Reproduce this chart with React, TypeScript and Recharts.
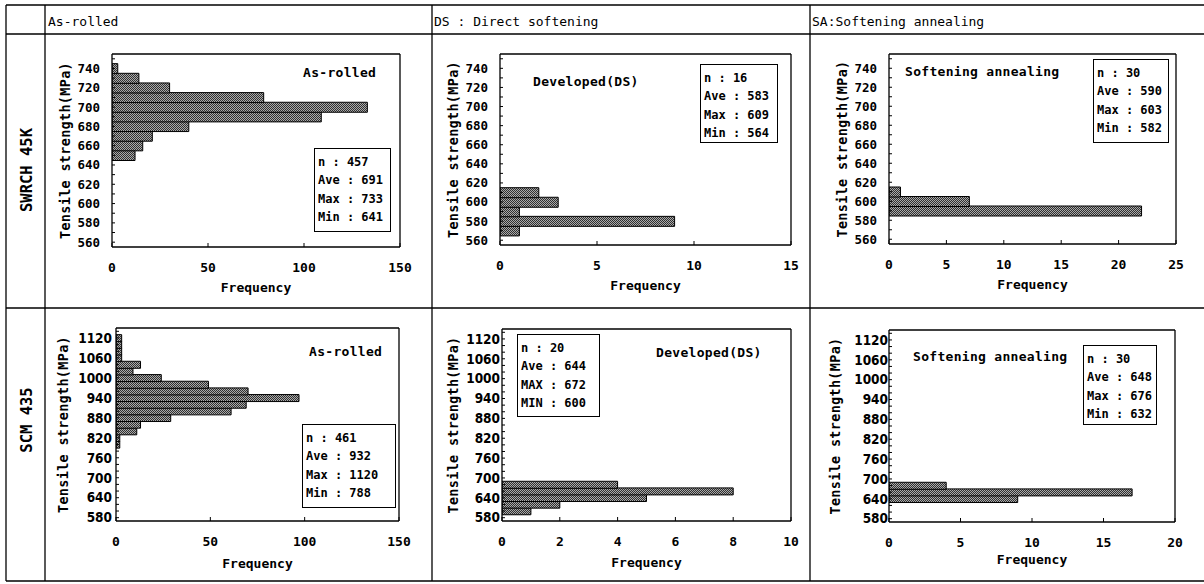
import React from 'react';
import { BarChart, Bar, XAxis, YAxis } from 'recharts';

// tensile strength bins (MPa), bar = bin centre
const binsSWRCH = [560, 570, 580, 590, 600, 610, 620, 630, 640, 650, 660, 670, 680, 690, 700, 710, 720, 730, 740, 750];
const labelsSWRCH = [560, 580, 600, 620, 640, 660, 680, 700, 720, 740];
const binsSCM = [580, 600, 620, 640, 660, 680, 700, 720, 740, 760, 780, 800, 820, 840, 860, 880, 900, 920, 940, 960, 980, 1000, 1020, 1040, 1060, 1080, 1100, 1120, 1140];
const labelsSCM = [580, 640, 700, 760, 820, 880, 940, 1000, 1060, 1120];

// frequencies
const swrchAsRolled = [0, 0, 0, 0, 0, 0, 0, 0, 0, 12, 16, 21, 40, 109, 133, 79, 30, 14, 3, 0];
const swrchDirect = [0, 1, 9, 1, 3, 2, 0, 0, 0, 0, 0, 0, 0, 0, 0, 0, 0, 0, 0, 0];
const swrchAnnealed = [0, 0, 0, 22, 7, 1, 0, 0, 0, 0, 0, 0, 0, 0, 0, 0, 0, 0, 0, 0];
const scmAsRolled = [0, 0, 0, 0, 0, 0, 0, 0, 0, 0, 0, 2, 2, 11, 13, 29, 61, 69, 97, 70, 49, 24, 9, 13, 3, 3, 3, 3, 0];
const scmDirect = [0, 1, 2, 5, 8, 4, 0, 0, 0, 0, 0, 0, 0, 0, 0, 0, 0, 0, 0, 0, 0, 0, 0, 0, 0, 0, 0, 0, 0];
const scmAnnealed = [0, 0, 0, 9, 17, 4, 0, 0, 0, 0, 0, 0, 0, 0, 0, 0, 0, 0, 0, 0, 0, 0, 0, 0, 0, 0, 0, 0, 0];

const freqTicks150 = [0, 50, 100, 150];
const freqTicks15 = [0, 5, 10, 15];
const freqTicks25 = [0, 5, 10, 15, 20, 25];
const freqTicks10 = [0, 2, 4, 6, 8, 10];
const freqTicks20 = [0, 5, 10, 15, 20];

const statsSWRCHAsRolled = ['n : 457', 'Ave : 691', 'Max : 733', 'Min : 641'];
const statsSWRCHDirect = ['n : 16', 'Ave : 583', 'Max : 609', 'Min : 564'];
const statsSWRCHAnnealed = ['n : 30', 'Ave : 590', 'Max : 603', 'Min : 582'];
const statsSCMAsRolled = ['n : 461', 'Ave : 932', 'Max : 1120', 'Min : 788'];
const statsSCMDirect = ['n : 20', 'Ave : 644', 'MAX : 672', 'MIN : 600'];
const statsSCMAnnealed = ['n : 30', 'Ave : 648', 'Max : 676', 'Min : 632'];

const MONO = '"DejaVu Sans Mono", "Liberation Mono", monospace';
const NARROW = '"Liberation Sans Narrow", "DejaVu Sans Condensed", "Liberation Sans", sans-serif';

const panels = [
  { id: 'p1', bins: binsSWRCH, counts: swrchAsRolled, labels: labelsSWRCH, xMax: 150, xTicks: freqTicks150,
    box: [112, 54, 400, 247], labelOff: 23, tickMargin: 15, freqOff: 10, yFont: MONO, ySize: 12.5,
    title: 'As-rolled', titleAt: [303, 73], stats: statsSWRCHAsRolled, statsBox: [314, 148, 77, 84] },
  { id: 'p2', bins: binsSWRCH, counts: swrchDirect, labels: labelsSWRCH, xMax: 15, xTicks: freqTicks15,
    box: [500, 54, 791, 245], labelOff: 23, tickMargin: 15, freqOff: 10, yFont: MONO, ySize: 12.5,
    title: 'Developed(DS)', titleAt: [533, 82], stats: statsSWRCHDirect, statsBox: [700, 64, 78, 79] },
  { id: 'p3', bins: binsSWRCH, counts: swrchAnnealed, labels: labelsSWRCH, xMax: 25, xTicks: freqTicks25,
    box: [889, 54, 1176, 244], labelOff: 23, tickMargin: 15, freqOff: 10, yFont: MONO, ySize: 12.5,
    title: 'Softening annealing', titleAt: [905, 72], stats: statsSWRCHAnnealed, statsBox: [1093, 59, 76, 84] },
  { id: 'p4', bins: binsSCM, counts: scmAsRolled, labels: labelsSCM, xMax: 150, xTicks: freqTicks150,
    box: [116, 328, 399, 521], labelOff: 17, tickMargin: 7, freqOff: 8, yFont: NARROW, ySize: 13.5,
    title: 'As-rolled', titleAt: [309, 352], stats: statsSCMAsRolled, statsBox: [302, 424, 94, 84] },
  { id: 'p5', bins: binsSCM, counts: scmDirect, labels: labelsSCM, xMax: 10, xTicks: freqTicks10,
    box: [502, 329, 791, 521], labelOff: 21, tickMargin: 5, freqOff: 9, yFont: NARROW, ySize: 13.5,
    title: 'Developed(DS)', titleAt: [656, 353], stats: statsSCMDirect, statsBox: [517, 334, 83, 83] },
  { id: 'p6', bins: binsSCM, counts: scmAnnealed, labels: labelsSCM, xMax: 20, xTicks: freqTicks20,
    box: [889, 330, 1175, 522], labelOff: 16, tickMargin: 4, freqOff: 13, yFont: NARROW, ySize: 13.5,
    title: 'Softening annealing', titleAt: [913, 357], stats: statsSCMAnnealed, statsBox: [1083, 345, 74, 80] },
];

const YW = 70;
const XH = 55;
const RM = 25;
const axisStyle = { stroke: '#000', strokeWidth: 1.3 };

function Histogram({ p }: { p: any }) {
  const [l, t, r, b] = p.box;
  const width = r - l + YW + RM;
  const height = b - t + 10 + XH;
  const data = p.bins.map((bin: number, i: number) => ({ bin, count: p.counts[i] }));
  const pat = `dots-${p.id}`;
  return (
    <div style={{ position: 'absolute', left: l - YW, top: t - 10, width, height }}>
      <BarChart width={width} height={height} data={data} layout="vertical" barCategoryGap={0}
        margin={{ top: 9, right: RM - 1, bottom: 0, left: 0 }}>
        <defs>
          <pattern id={pat} width={2} height={2} patternUnits="userSpaceOnUse">
            <rect x={0} y={0} width={2} height={2} fill="#aaaaaa" />
            <rect x={0} y={0} width={1} height={1} fill="#303030" />
            <rect x={1} y={1} width={1} height={1} fill="#303030" />
          </pattern>
        </defs>
        <XAxis xAxisId="b" type="number" domain={[0, p.xMax]} ticks={p.xTicks} interval={0}
          allowDataOverflow height={XH} tickSize={-4} tickMargin={20}
          axisLine={axisStyle} tickLine={{ stroke: '#000' }}
          tick={{ fill: '#000', fontSize: 13, fontFamily: MONO, fontWeight: 'bold' }}
          label={{ value: 'Frequency', position: 'insideBottom', offset: p.freqOff, fill: '#000',
            fontSize: 13, fontFamily: MONO, fontWeight: 'bold' }} />
        <XAxis xAxisId="t" orientation="top" type="number" domain={[0, p.xMax]} height={1}
          tick={false} tickLine={false} axisLine={axisStyle} />
        <YAxis yAxisId="l" type="category" dataKey="bin" reversed width={YW} interval={0}
          tickSize={-3} tickMargin={p.tickMargin} axisLine={axisStyle} tickLine={{ stroke: '#000' }}
          tickFormatter={(v: number) => (p.labels.includes(v) ? String(v) : '')}
          tick={{ fill: '#000', fontSize: p.ySize, fontFamily: p.yFont, fontWeight: 'bold' }}
          label={{ value: 'Tensile strength(MPa)', angle: -90, position: 'insideLeft', offset: p.labelOff,
            fill: '#000', fontSize: 13.5, fontFamily: MONO, fontWeight: 'bold', letterSpacing: 0.3,
            style: { textAnchor: 'middle' } }} />
        <YAxis yAxisId="r" orientation="right" type="category" dataKey="bin" width={1}
          tick={false} tickLine={false} axisLine={axisStyle} />
        <Bar xAxisId="b" yAxisId="l" dataKey="count" fill={`url(#${pat})`} stroke="#000" strokeWidth={1}
          isAnimationActive={false} />
      </BarChart>
    </div>
  );
}

function Overlay({ p }: { p: any }) {
  const [sx, sy, sw, sh] = p.statsBox;
  return (
    <>
      <div style={{ position: 'absolute', left: p.titleAt[0], top: p.titleAt[1] - 7, fontFamily: MONO,
        fontSize: 13, fontWeight: 'bold', lineHeight: '14px', letterSpacing: 0.3, whiteSpace: 'nowrap', color: '#000' }}>
        {p.title}
      </div>
      <div style={{ position: 'absolute', left: sx, top: sy, width: sw, height: sh, boxSizing: 'border-box',
        border: '1.3px solid #000', background: '#fff', padding: '4px 0 0 3px', fontFamily: MONO,
        fontSize: 12, fontWeight: 'bold', lineHeight: '18.4px', color: '#000', whiteSpace: 'nowrap' }}>
        {p.stats.map((s: string) => <div key={s}>{s}</div>)}
      </div>
    </>
  );
}

export default function App() {
  const line = { stroke: '#000', strokeWidth: 1.3 };
  return (
    <div style={{ position: 'absolute', left: 0, top: 0, width: 1204, height: 584, background: '#fff', overflow: 'hidden' }}>
      <svg width={1204} height={584} style={{ position: 'absolute', left: 0, top: 0 }}>
        <line x1={6} y1={5} x2={1204} y2={5} {...line} />
        <line x1={6} y1={34} x2={1204} y2={34} {...line} />
        <line x1={6} y1={308} x2={1204} y2={308} {...line} />
        <line x1={6} y1={581} x2={1204} y2={581} {...line} />
        <line x1={6} y1={5} x2={6} y2={581} {...line} />
        <line x1={45} y1={5} x2={45} y2={581} {...line} />
        <line x1={432} y1={5} x2={432} y2={581} {...line} />
        <line x1={810} y1={5} x2={810} y2={581} {...line} />
        <g fontFamily={MONO} fontSize={13} fill="#000">
          <text x={48} y={26}>As-rolled</text>
          <text x={434} y={26}>DS : Direct softening</text>
          <text x={812} y={26}>SA:Softening annealing</text>
        </g>
        <g fontFamily={MONO} fontSize={15.5} fontWeight="bold" fill="#000" textAnchor="middle">
          <text x={32} y={170} transform="rotate(-90 32 170)">SWRCH 45K</text>
          <text x={32} y={420} transform="rotate(-90 32 420)">SCM 435</text>
        </g>
      </svg>
      {panels.map((p) => <Histogram key={p.id} p={p} />)}
      {panels.map((p) => <Overlay key={p.id} p={p} />)}
    </div>
  );
}
